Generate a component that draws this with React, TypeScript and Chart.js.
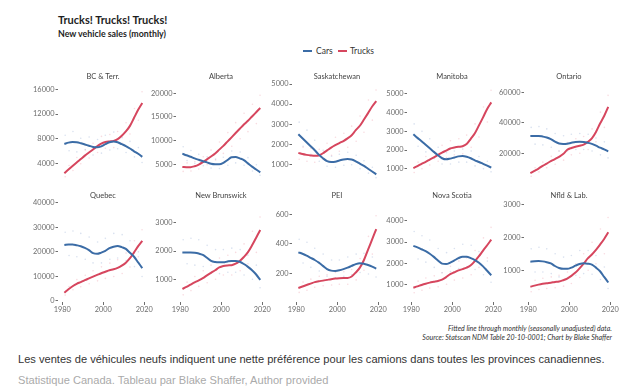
import React, { useEffect, useRef } from "react";
import { Chart, registerables } from "chart.js";
Chart.register(...registerables);

// ---------- data ----------
const lineYears = [1981, 1983, 1985, 1987, 1989, 1991, 1993, 1995, 1997, 1999, 2001, 2003, 2005, 2007, 2009, 2011, 2013, 2015, 2017, 2019];
const scatterYears = [1981.4, 1983.3, 1985.2, 1987.1, 1989.0, 1991.2, 1993.1, 1995.0, 1997.2, 1999.1, 2001.0, 2003.2, 2005.1, 2007.0, 2009.2, 2011.1, 2013.0, 2015.2, 2017.1, 2018.9];
const xTickYears = [1980, 2000, 2020];

const bcCars = [7180, 7400, 7480, 7450, 7300, 7100, 6900, 6700, 6650, 6800, 7150, 7450, 7600, 7450, 7150, 6850, 6450, 6000, 5600, 5100];
const bcTrucks = [2450, 3050, 3630, 4200, 4750, 5300, 5800, 6300, 6800, 7250, 7500, 7600, 7660, 7950, 8500, 9200, 10100, 11400, 12700, 13800];
const bcCarsPts = [8600, 6100, 9200, 5900, 8100, 6300, 8300, 5400, 7900, 5700, 8600, 6200, 9100, 6400, 8200, 5800, 7600, 5100, 6600, 4200];
const bcTrucksPts = [1900, 3700, 2900, 5000, 4000, 6200, 4900, 7300, 5800, 8400, 6500, 8700, 6600, 9200, 7300, 10600, 8800, 12900, 11000, 15600];
const bcTicks = [4000, 8000, 12000, 16000];

const abCars = [7250, 6900, 6600, 6250, 5950, 5650, 5400, 5100, 5000, 5000, 5300, 5900, 6500, 6550, 6250, 5900, 5200, 4500, 3900, 3300];
const abTrucks = [4450, 4400, 4400, 4600, 4950, 5450, 6050, 6650, 7300, 8100, 8900, 9800, 10700, 11600, 12500, 13400, 14200, 15100, 16000, 16900];
const abCarsPts = [8700, 5800, 7900, 5200, 7100, 4700, 6600, 4200, 6100, 4100, 6500, 4800, 7800, 5300, 7600, 4800, 6400, 3600, 4900, 2700];
const abTrucksPts = [3500, 5300, 3600, 5600, 4000, 6600, 4900, 8000, 5900, 9700, 7300, 11700, 8800, 13800, 10400, 15800, 11900, 17700, 13600, 19600];
const abTicks = [5000, 10000, 15000, 20000];

const skCars = [2500, 2300, 2100, 1900, 1700, 1480, 1300, 1160, 1120, 1130, 1190, 1240, 1260, 1240, 1150, 1030, 920, 780, 640, 500];
const skTrucks = [1570, 1510, 1470, 1440, 1420, 1440, 1550, 1690, 1830, 1950, 2060, 2160, 2290, 2450, 2700, 2920, 3230, 3550, 3880, 4150];
const skCarsPts = [3100, 1900, 2700, 1500, 2200, 1150, 1700, 900, 1400, 850, 1500, 950, 1600, 980, 1450, 780, 1180, 560, 850, 330];
const skTrucksPts = [1250, 1850, 1150, 1800, 1100, 1750, 1250, 2050, 1450, 2350, 1650, 2550, 1850, 2900, 2150, 3400, 2600, 4200, 3200, 4700];
const skTicks = [1000, 2000, 3000, 4000, 5000];

const mbCars = [2840, 2650, 2470, 2280, 2090, 1900, 1720, 1560, 1500, 1540, 1600, 1660, 1680, 1640, 1560, 1450, 1360, 1260, 1160, 1060];
const mbTrucks = [1030, 1140, 1260, 1370, 1490, 1600, 1740, 1860, 1970, 2080, 2130, 2170, 2200, 2320, 2600, 2900, 3320, 3750, 4200, 4550];
const mbCarsPts = [3400, 2200, 3000, 1900, 2600, 1550, 2150, 1250, 1850, 1250, 1950, 1350, 2050, 1350, 1950, 1150, 1650, 1000, 1400, 830];
const mbTrucksPts = [800, 1350, 1000, 1650, 1200, 1900, 1400, 2250, 1600, 2500, 1750, 2600, 1800, 2800, 2150, 3400, 2700, 4300, 3500, 5200];
const mbTicks = [1000, 2000, 3000, 4000, 5000];

const onCars = [31300, 31400, 31400, 31000, 30400, 29300, 27600, 26400, 26100, 26300, 26900, 27400, 27500, 27400, 26900, 26200, 25000, 23700, 22600, 21300];
const onTrucks = [7000, 8500, 10000, 11800, 13300, 14800, 16200, 17700, 19500, 22300, 23500, 24300, 24900, 25700, 27500, 29800, 34000, 39500, 44500, 50500];
const onCarsPts = [37000, 26000, 37500, 25500, 36000, 24000, 33000, 21500, 31500, 21500, 32500, 22500, 33000, 22500, 32500, 21500, 30000, 19000, 27500, 17000];
const onTrucksPts = [5000, 10500, 7800, 14200, 10500, 18000, 12800, 21500, 15500, 27000, 19000, 29500, 20000, 31000, 22500, 36000, 27500, 47000, 37000, 58000];
const onTicks = [20000, 40000, 60000];

const qcCars = [22800, 23000, 23000, 22700, 22300, 21600, 20700, 19500, 19200, 19700, 20400, 21500, 22100, 22400, 21900, 21200, 19600, 18000, 15700, 13400];
const qcTrucks = [3400, 4800, 6000, 7000, 7700, 8500, 9200, 9900, 10600, 11300, 11900, 12500, 12900, 13500, 14400, 15600, 17400, 19800, 22300, 24500];
const qcCarsPts = [28000, 18500, 28500, 18000, 27500, 17000, 26000, 15500, 24000, 15500, 25500, 17000, 27500, 17500, 27000, 16500, 24500, 14000, 20000, 10000];
const qcTrucksPts = [2400, 5900, 4600, 8700, 5800, 10500, 7000, 12300, 8200, 13900, 9200, 15400, 10000, 16800, 11200, 19500, 13800, 24500, 18000, 29000];
const qcTicks = [0, 10000, 20000, 30000, 40000];

const nbCars = [1950, 1950, 1950, 1940, 1910, 1860, 1760, 1650, 1610, 1600, 1600, 1630, 1650, 1650, 1620, 1540, 1440, 1320, 1170, 980];
const nbTrucks = [660, 730, 810, 890, 960, 1040, 1140, 1230, 1320, 1420, 1470, 1490, 1500, 1550, 1650, 1790, 1960, 2200, 2470, 2740];
const nbCarsPts = [2400, 1550, 2450, 1500, 2400, 1450, 2200, 1250, 2050, 1200, 2050, 1250, 2100, 1250, 2050, 1150, 1850, 1000, 1500, 700];
const nbTrucksPts = [450, 900, 600, 1100, 750, 1300, 880, 1500, 1000, 1750, 1150, 1850, 1150, 1950, 1300, 2250, 1550, 2700, 1950, 3200];
const nbTicks = [1000, 2000, 3000];

const peCars = [342, 332, 320, 305, 290, 272, 250, 228, 218, 216, 220, 228, 238, 250, 262, 268, 265, 256, 245, 232];
const peTrucks = [100, 110, 120, 130, 140, 146, 150, 155, 160, 164, 166, 167, 168, 178, 205, 238, 290, 360, 430, 500];
const peCarsPts = [430, 270, 410, 240, 370, 215, 330, 180, 290, 170, 290, 180, 310, 190, 330, 205, 335, 195, 310, 175];
const peTrucksPts = [70, 140, 85, 160, 105, 180, 115, 190, 120, 205, 125, 210, 125, 225, 155, 300, 220, 450, 330, 590];
const peTicks = [200, 400, 600];

const nsCars = [2820, 2750, 2660, 2570, 2450, 2300, 2130, 1980, 1960, 2030, 2130, 2240, 2310, 2310, 2240, 2150, 2020, 1850, 1640, 1430];
const nsTrucks = [840, 900, 970, 1030, 1080, 1120, 1160, 1220, 1340, 1480, 1570, 1660, 1720, 1790, 1900, 2100, 2330, 2600, 2850, 3120];
const nsCarsPts = [3500, 2200, 3300, 2050, 3100, 1800, 2700, 1550, 2500, 1600, 2700, 1750, 2900, 1800, 2850, 1700, 2550, 1450, 2100, 1100];
const nsTrucksPts = [600, 1150, 720, 1300, 820, 1400, 880, 1550, 1000, 1850, 1200, 2100, 1300, 2250, 1450, 2600, 1800, 3200, 2250, 3700];
const nsTicks = [1000, 2000, 3000, 4000];

const nlCars = [1260, 1275, 1282, 1270, 1245, 1210, 1130, 1070, 1045, 1045, 1080, 1140, 1190, 1215, 1200, 1170, 1080, 970, 800, 630];
const nlTrucks = [500, 535, 565, 590, 610, 625, 645, 660, 700, 750, 830, 930, 1060, 1200, 1360, 1480, 1620, 1780, 1950, 2150];
const nlCarsPts = [1650, 950, 1700, 950, 1650, 900, 1500, 800, 1400, 780, 1450, 850, 1600, 900, 1600, 880, 1450, 720, 1100, 450];
const nlTrucksPts = [350, 700, 420, 760, 450, 800, 470, 850, 520, 950, 600, 1200, 780, 1500, 1000, 1850, 1200, 2250, 1500, 2600];
const nlTicks = [1000, 2000, 3000];

// ---------- panel config ----------
const panels = [
  { name: "BC & Terr.", cars: bcCars, trucks: bcTrucks, carsPts: bcCarsPts, trucksPts: bcTrucksPts, ticks: bcTicks, min: 887, max: 17339 },
  { name: "Alberta", cars: abCars, trucks: abTrucks, carsPts: abCarsPts, trucksPts: abTrucksPts, ticks: abTicks, min: 1049, max: 22599 },
  { name: "Saskatchewan", cars: skCars, trucks: skTrucks, carsPts: skCarsPts, trucksPts: skTrucksPts, ticks: skTicks, min: 68, max: 5150 },
  { name: "Manitoba", cars: mbCars, trucks: mbTrucks, carsPts: mbCarsPts, trucksPts: mbTrucksPts, ticks: mbTicks, min: 234, max: 5696 },
  { name: "Ontario", cars: onCars, trucks: onTrucks, carsPts: onCarsPts, trucksPts: onTrucksPts, ticks: onTicks, min: 525, max: 67410 },
  { name: "Quebec", cars: qcCars, trucks: qcTrucks, carsPts: qcCarsPts, trucksPts: qcTrucksPts, ticks: qcTicks, min: -407, max: 41099 },
  { name: "New Brunswick", cars: nbCars, trucks: nbTrucks, carsPts: nbCarsPts, trucksPts: nbTrucksPts, ticks: nbTicks, min: 198, max: 3802 },
  { name: "PEI", cars: peCars, trucks: peTrucks, carsPts: peCarsPts, trucksPts: peTrucksPts, ticks: peTicks, min: 5, max: 697 },
  { name: "Nova Scotia", cars: nsCars, trucks: nsTrucks, carsPts: nsCarsPts, trucksPts: nsTrucksPts, ticks: nsTicks, min: 161, max: 4995 },
  { name: "Nfld & Lab.", cars: nlCars, trucks: nlTrucks, carsPts: nlCarsPts, trucksPts: nlTrucksPts, ticks: nlTicks, min: 39, max: 3130 },
];

// ---------- layout / style ----------
const AREA_LEFTS = [58, 176, 292, 407, 524];
const AREA_TOPS = [81, 200];
const AREA_W = 90;
const AREA_H = 102;
const X_MIN = 1977.9;
const X_MAX = 2021.8;
const Y_W = 40;
const CARS_COLOR = "#3b6ca6";
const TRUCKS_COLOR = "#d6465e";
const CARS_DOT = "rgba(80,120,180,0.22)";
const TRUCKS_DOT = "rgba(225,90,115,0.22)";
const FONT = "Lato, 'Noto Sans', sans-serif";
const TICK_COLOR = "#6e6e6e";

function Panel({ p, row, col }: { p: any; row: number; col: number }) {
  const ref = useRef<HTMLCanvasElement>(null);
  const isBottom = row === 1;
  const padT = 8, padR = 8, padB = isBottom ? 2 : 6;
  const xH = isBottom ? 16 : 0;
  const W = Y_W + AREA_W + padR;
  const H = padT + AREA_H + xH + padB;
  const left = AREA_LEFTS[col] - Y_W;
  const top = AREA_TOPS[row] - padT;

  useEffect(() => {
    const tickFont = { family: FONT, size: 7.4 };
    const chart = new Chart(ref.current!, {
      type: "line",
      data: {
        datasets: [
          {
            label: "Cars",
            data: lineYears.map((x, i) => ({ x, y: p.cars[i] })),
            borderColor: CARS_COLOR,
            borderWidth: 2,
            pointRadius: 0,
            cubicInterpolationMode: "monotone",
            order: 0,
          },
          {
            label: "Trucks",
            data: lineYears.map((x, i) => ({ x, y: p.trucks[i] })),
            borderColor: TRUCKS_COLOR,
            borderWidth: 2,
            pointRadius: 0,
            cubicInterpolationMode: "monotone",
            order: 0,
          },
          {
            type: "scatter",
            label: "Cars (monthly)",
            data: scatterYears.map((x, i) => ({ x, y: p.carsPts[i] })),
            backgroundColor: CARS_DOT,
            borderWidth: 0,
            pointRadius: 0.8,
            order: 1,
          },
          {
            type: "scatter",
            label: "Trucks (monthly)",
            data: scatterYears.map((x, i) => ({ x, y: p.trucksPts[i] })),
            backgroundColor: TRUCKS_DOT,
            borderWidth: 0,
            pointRadius: 0.8,
            order: 1,
          },
        ] as any,
      },
      options: {
        animation: false,
        responsive: false,
        devicePixelRatio: 1,
        events: [],
        layout: { padding: { top: padT, right: padR, bottom: padB, left: 0 } },
        plugins: { legend: { display: false }, tooltip: { enabled: false }, title: { display: false } },
        scales: {
          x: {
            type: "linear",
            min: X_MIN,
            max: X_MAX,
            display: isBottom,
            afterBuildTicks: (s: any) => { s.ticks = xTickYears.map((v) => ({ value: v })); },
            afterFit: (s: any) => { s.height = xH; },
            grid: { drawOnChartArea: false, drawTicks: true, tickLength: 3, color: TICK_COLOR, lineWidth: 1 },
            border: { display: false },
            ticks: { font: tickFont, color: TICK_COLOR, padding: 0.5, maxRotation: 0, autoSkip: false, callback: (v: any) => String(v) },
          },
          y: {
            type: "linear",
            min: p.min,
            max: p.max,
            afterBuildTicks: (s: any) => { s.ticks = p.ticks.map((v: number) => ({ value: v })); },
            afterFit: (s: any) => { s.width = Y_W; },
            grid: { drawOnChartArea: false, drawTicks: true, tickLength: 2.5, color: TICK_COLOR, lineWidth: 1 },
            border: { display: false },
            ticks: { font: tickFont, color: TICK_COLOR, padding: 1, callback: (v: any) => String(v) },
          },
        },
      } as any,
    });
    return () => chart.destroy();
  }, []);

  return (
    <>
      <canvas
        ref={ref}
        width={W}
        height={H}
        style={{ position: "absolute", left, top, width: W, height: H }}
      />
      <div
        style={{
          position: "absolute",
          left: AREA_LEFTS[col],
          width: AREA_W,
          top: AREA_TOPS[row] - 9.5,
          textAlign: "center",
          font: `7.5px ${FONT}`,
          lineHeight: "9px",
          color: "#444",
          whiteSpace: "nowrap",
        }}
      >
        {p.name}
      </div>
    </>
  );
}

export default function App() {
  return (
    <div
      style={{
        position: "fixed",
        left: 0,
        top: 0,
        width: 624,
        height: 392,
        background: "#fff",
        overflow: "hidden",
      }}
    >
      <div style={{ position: "absolute", left: 58, top: 13, font: `bold 11px ${FONT}`, lineHeight: "14px", color: "#1e1e1e", whiteSpace: "nowrap" }}>
        Trucks! Trucks! Trucks!
      </div>
      <div style={{ position: "absolute", left: 58, top: 28, font: `bold 8.8px ${FONT}`, lineHeight: "11px", color: "#1e1e1e", whiteSpace: "nowrap" }}>
        New vehicle sales (monthly)
      </div>

      {/* legend */}
      <div style={{ position: "absolute", left: 303, top: 50, width: 9, height: 2, background: CARS_COLOR }} />
      <div style={{ position: "absolute", left: 316, top: 46, font: `8.5px ${FONT}`, lineHeight: "10px", color: "#333" }}>Cars</div>
      <div style={{ position: "absolute", left: 338, top: 50, width: 9, height: 2, background: TRUCKS_COLOR }} />
      <div style={{ position: "absolute", left: 350, top: 46, font: `8.5px ${FONT}`, lineHeight: "10px", color: "#333" }}>Trucks</div>

      {panels.map((p, i) => (
        <Panel key={p.name} p={p} row={Math.floor(i / 5)} col={i % 5} />
      ))}

      <div style={{ position: "absolute", left: 0, width: 612, top: 324, textAlign: "right", font: `italic 7px ${FONT}`, lineHeight: "8px", color: "#333", whiteSpace: "nowrap" }}>
        Fitted line through monthly (seasonally unadjusted) data.
      </div>
      <div style={{ position: "absolute", left: 0, width: 612, top: 333, textAlign: "right", font: `italic 7px ${FONT}`, lineHeight: "8px", color: "#333", whiteSpace: "nowrap" }}>
        Source: Statscan NDM Table 20-10-0001; Chart by Blake Shaffer
      </div>

      <div style={{ position: "absolute", left: 18, top: 352, font: `11.1px 'Liberation Sans', Arial, sans-serif`, lineHeight: "14px", color: "#333", whiteSpace: "nowrap" }}>
        Les ventes de véhicules neufs indiquent une nette préférence pour les camions dans toutes les provinces canadiennes.
      </div>
      <div style={{ position: "absolute", left: 18, top: 373, font: `11.1px 'Liberation Sans', Arial, sans-serif`, lineHeight: "14px", color: "#aaa", whiteSpace: "nowrap" }}>
        Statistique Canada. Tableau par Blake Shaffer, Author provided
      </div>
    </div>
  );
}
